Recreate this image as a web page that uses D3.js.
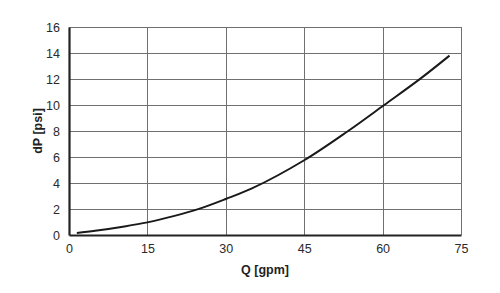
<!DOCTYPE html>
<html lang="en">
<head>
    <meta charset="UTF-8">
    <style>
        body { margin: 0; background: #fff; }
        #chart { width: 500px; height: 293px; }
    </style>
    <script src="https://cdnjs.cloudflare.com/ajax/libs/d3/7.8.5/d3.min.js"></script>
</head>
<body>
    <div id="chart"></div>
    <script>
        // curve data
        const flow = [1.5, 5, 10, 15, 20, 25, 30, 35, 45, 53.4, 60.3, 67.3, 72.8];
        const dropPsi = [0.15, 0.32, 0.62, 0.97, 1.45, 2.03, 2.77, 3.58, 5.75, 8.0, 10.0, 12.05, 13.8];
        const xTicks = [0, 15, 30, 45, 60, 75];
        const yTicks = [0, 2, 4, 6, 8, 10, 12, 14, 16];

        const margin = { top: 27, right: 39, bottom: 58, left: 69 };
        const width = 500 - margin.left - margin.right;
        const height = 293 - margin.top - margin.bottom;
        const font = 'Liberation Sans, Arial, sans-serif';

        const svg = d3.select('#chart')
            .append('svg')
            .attr('width', 500)
            .attr('height', 293)
            .append('g')
            .attr('transform', `translate(${margin.left}, ${margin.top})`);

        const x = d3.scaleLinear().domain([0, 75]).range([0, width]);
        const y = d3.scaleLinear().domain([0, 16]).range([height, 0]);

        // grid
        svg.append('g')
            .selectAll('line')
            .data(xTicks.slice(1))
            .enter()
            .append('line')
            .attr('x1', d => Math.round(x(d)) + 0.5)
            .attr('x2', d => Math.round(x(d)) + 0.5)
            .attr('y1', 0)
            .attr('y2', height)
            .attr('stroke', '#707070')
            .attr('stroke-width', 1);

        svg.append('g')
            .selectAll('line')
            .data(yTicks.slice(1))
            .enter()
            .append('line')
            .attr('x1', 0)
            .attr('x2', width)
            .attr('y1', d => Math.round(y(d)) + 0.5)
            .attr('y2', d => Math.round(y(d)) + 0.5)
            .attr('stroke', '#707070')
            .attr('stroke-width', 1);

        // axes
        const xAxis = d3.axisBottom(x).tickValues(xTicks).tickSize(0).tickPadding(9);
        const yAxis = d3.axisLeft(y).tickValues(yTicks).tickSize(0).tickPadding(9);

        const gx = svg.append('g')
            .attr('transform', `translate(0, ${height})`)
            .call(xAxis);
        const gy = svg.append('g').call(yAxis);

        [gx, gy].forEach(g => {
            g.select('.domain').attr('stroke', '#222').attr('stroke-width', 2.2);
            g.selectAll('text')
                .attr('fill', '#2a2a2a')
                .style('font-family', font)
                .style('font-size', '12.5px');
        });

        // curve
        const pts = flow.map((q, i) => [q, dropPsi[i]]);
        svg.append('path')
            .datum(pts)
            .attr('fill', 'none')
            .attr('stroke', '#1a1a1a')
            .attr('stroke-width', 2)
            .attr('d', d3.line()
                .x(d => x(d[0]))
                .y(d => y(d[1]))
                .curve(d3.curveCatmullRom.alpha(0.5)));

        // axis titles
        svg.append('text')
            .attr('x', width / 2)
            .attr('y', height + 39)
            .attr('text-anchor', 'middle')
            .style('font-family', font)
            .style('font-size', '12.5px')
            .style('font-weight', 'bold')
            .attr('fill', '#222')
            .text('Q [gpm]');

        svg.append('text')
            .attr('transform', `translate(-27, ${height / 2}) rotate(-90)`)
            .attr('text-anchor', 'middle')
            .style('font-family', font)
            .style('font-size', '12.5px')
            .style('font-weight', 'bold')
            .attr('fill', '#222')
            .text('dP [psi]');
    </script>
</body>
</html>
